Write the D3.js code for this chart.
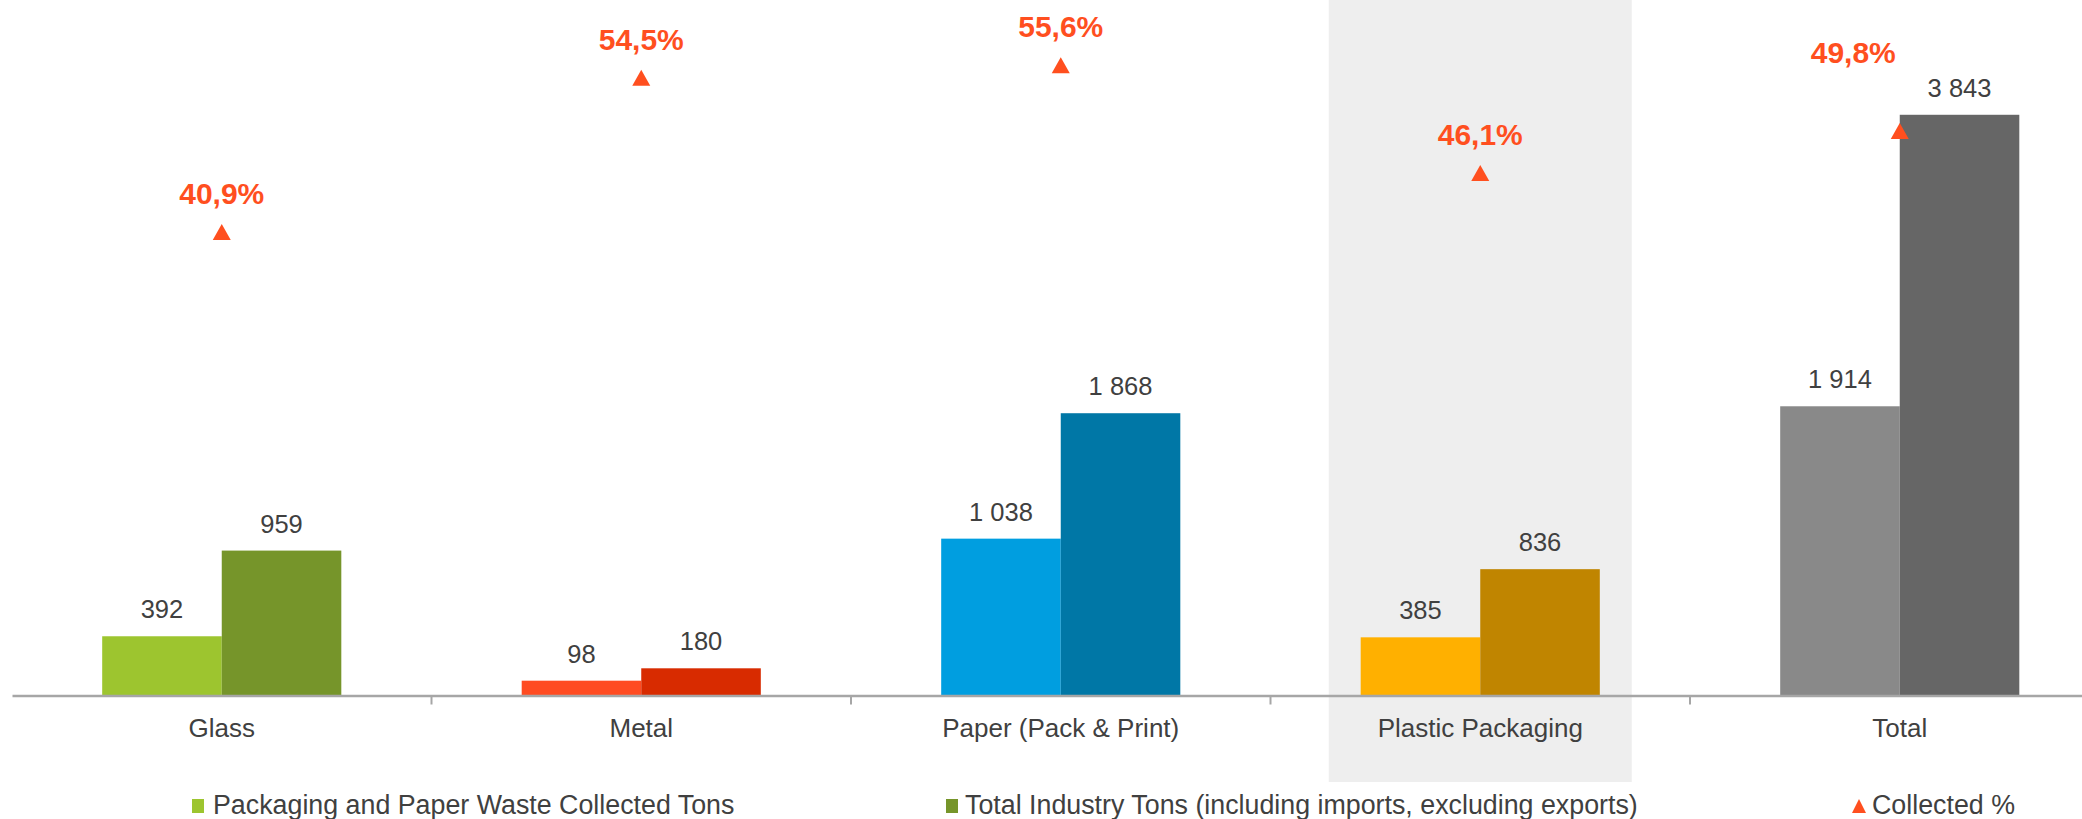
<!DOCTYPE html>
<html>
<head>
<meta charset="utf-8">
<script src="https://cdn.jsdelivr.net/npm/d3@7"></script>
<style>
  body { margin: 0; background: #ffffff; }
  svg { display: block; }
  text { font-family: "Liberation Sans", Arial, sans-serif; }
</style>
</head>
<body>
<svg id="chart" width="2082" height="819"></svg>
<script>
// ---------------- DATA ----------------
const categories = ["Glass", "Metal", "Paper (Pack & Print)", "Plastic Packaging", "Total"];
const collectedTons = [392, 98, 1038, 385, 1914];
const industryTons = [959, 180, 1868, 836, 3843];
const collectedPct = [40.9, 54.5, 55.6, 46.1, 49.8];
const seriesNames = [
  "Packaging and Paper Waste Collected Tons",
  "Total Industry Tons (including imports, excluding exports)",
  "Collected %"
];
const tonsAxisMax = 4500;
const pctAxisMax = 60;
const highlightedCategory = "Plastic Packaging";

// ---------------- STYLE ----------------
const lightColors = ["#9DC52F", "#FF4B21", "#009EE0", "#FFB000", "#898989"];
const darkColors  = ["#76952A", "#D82B00", "#0077A6", "#C08500", "#666666"];
const pctColor = "#FF4F1F";
const textColor = "#404040";
const axisColor = "#A6A6A6";

const W = 2082, H = 819;
const baseY = 695.5, topY = 15.5;
const plotLeft = 12, plotRight = 2109.5;

const locale = d3.formatLocale({ decimal: ",", thousands: " ", grouping: [3], currency: ["", ""] });
const fmtTons = locale.format(",.0f");
const fmtPct = v => locale.format(".1f")(v) + "%";

const svg = d3.select("#chart");

const x0 = d3.scaleBand().domain(categories).range([plotLeft, plotRight])
  .paddingInner(0.43).paddingOuter(0.215);
const x1 = d3.scaleBand().domain([0, 1]).range([0, x0.bandwidth()]);
const y = d3.scaleLinear().domain([0, tonsAxisMax]).range([baseY, topY]);
const yPct = d3.scaleLinear().domain([0, pctAxisMax]).range([baseY, topY]);

const center = c => x0(c) + x0.bandwidth() / 2;

// highlight band behind Plastic Packaging
const hlWidth = 303;
svg.append("rect")
  .attr("x", center(highlightedCategory) - hlWidth / 2)
  .attr("y", 0)
  .attr("width", hlWidth)
  .attr("height", 782)
  .attr("fill", "#EEEEEE");

// bars
const rows = categories.map((c, i) => ({ c, i, vals: [collectedTons[i], industryTons[i]] }));
const groups = svg.append("g").selectAll("g").data(rows).join("g")
  .attr("transform", d => `translate(${x0(d.c)},0)`);

groups.selectAll("rect").data(d => d.vals.map((v, k) => ({ v, k, i: d.i }))).join("rect")
  .attr("x", d => x1(d.k))
  .attr("y", d => y(d.v))
  .attr("width", x1.bandwidth())
  .attr("height", d => baseY - y(d.v))
  .attr("fill", d => d.k === 0 ? lightColors[d.i] : darkColors[d.i]);

groups.selectAll("text").data(d => d.vals.map((v, k) => ({ v, k }))).join("text")
  .attr("x", d => x1(d.k) + x1.bandwidth() / 2)
  .attr("y", d => y(d.v) - 18)
  .attr("text-anchor", "middle")
  .attr("font-size", 25.5)
  .attr("fill", textColor)
  .text(d => fmtTons(d.v));

// x axis
const axis = svg.append("g")
  .attr("transform", `translate(0,${baseY})`)
  .call(d3.axisBottom(x0).tickSize(0).tickSizeOuter(0));
axis.select(".domain").attr("stroke", axisColor).attr("stroke-width", 2.5);
axis.selectAll(".tick text")
  .attr("y", 41.5).attr("dy", null)
  .attr("font-size", 26)
  .attr("font-family", '"Liberation Sans", Arial, sans-serif')
  .attr("fill", textColor);

// category separator ticks
const boundaries = d3.range(1, categories.length).map(k => plotLeft + k * x0.step());
svg.append("g").selectAll("line").data(boundaries).join("line")
  .attr("x1", d => d).attr("x2", d => d)
  .attr("y1", baseY).attr("y2", baseY + 9)
  .attr("stroke", axisColor).attr("stroke-width", 2);

// collected % markers
const tri = (w, h) => `M0,${-h / 2}L${w / 2},${h / 2}L${-w / 2},${h / 2}Z`;
const pctRows = categories.map((c, i) => ({ c, v: collectedPct[i] }));
svg.append("g").selectAll("path").data(pctRows).join("path")
  .attr("transform", d => `translate(${center(d.c)},${yPct(d.v)})`)
  .attr("d", tri(18, 16))
  .attr("fill", pctColor);

const pctLabelNudge = { "Total": [-46.5, -40] };
svg.append("g").selectAll("text").data(pctRows).join("text")
  .attr("x", d => center(d.c) + (pctLabelNudge[d.c] ? pctLabelNudge[d.c][0] : 0))
  .attr("y", d => yPct(d.v) - 28 + (pctLabelNudge[d.c] ? pctLabelNudge[d.c][1] : 0))
  .attr("text-anchor", "middle")
  .attr("font-size", 30)
  .attr("font-weight", "bold")
  .attr("fill", pctColor)
  .text(d => fmtPct(d.v));

// legend
const legendY = 806;
const legendX = [192, 946, 1852];
const leg = svg.append("g");
leg.append("rect").attr("x", legendX[0]).attr("y", legendY - 7).attr("width", 12).attr("height", 14)
  .attr("fill", lightColors[0]);
leg.append("rect").attr("x", legendX[1]).attr("y", legendY - 7).attr("width", 12).attr("height", 14)
  .attr("fill", darkColors[0]);
leg.append("path").attr("transform", `translate(${legendX[2] + 7},${legendY})`)
  .attr("d", tri(14, 14)).attr("fill", pctColor);
const legTextX = [legendX[0] + 21, legendX[1] + 19, legendX[2] + 20];
leg.selectAll("text").data(seriesNames).join("text")
  .attr("x", (d, i) => legTextX[i])
  .attr("y", legendY + 8)
  .attr("font-size", 26.8)
  .attr("fill", textColor)
  .text(d => d);
</script>
</body>
</html>
